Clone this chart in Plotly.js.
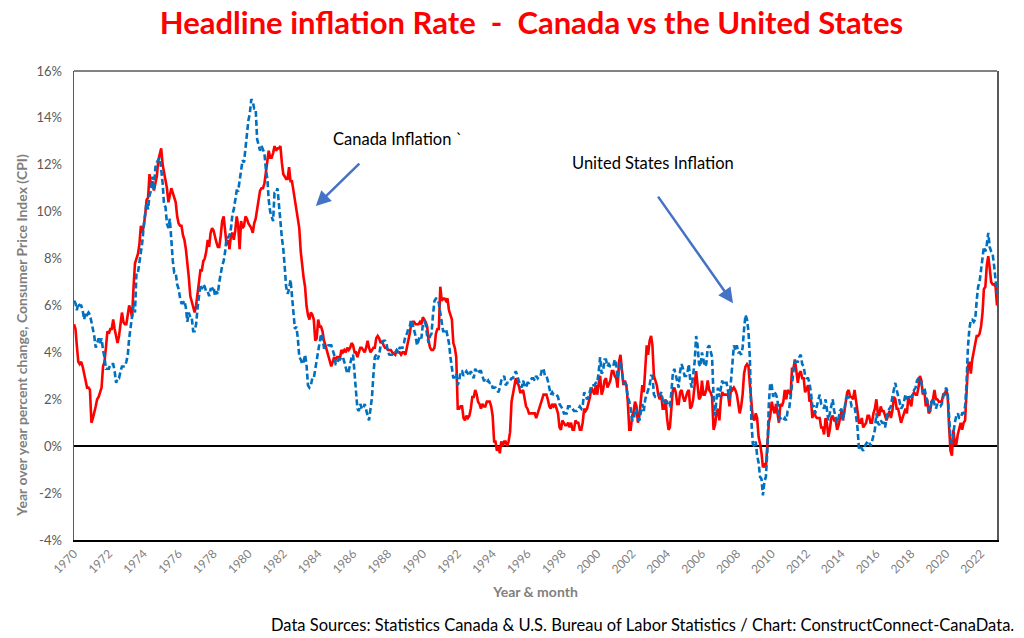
<!DOCTYPE html>
<html>
<head>
<meta charset="utf-8">
<script src="https://cdn.plot.ly/plotly-3.0.1.min.js"></script>
<style>
html,body{margin:0;padding:0;background:#ffffff;}
#chart{width:1024px;height:638px;}
</style>
</head>
<body>
<div id="chart"></div>
<script>
// Monthly year-over-year CPI change (%), January 1970 to December 2022
const startYear = 1970;

const canadaCPI = [
  5.2, 5.0, 4.3, 3.6, 3.5, 3.6, 3.4, 3.0, 2.8, 2.5, 2.5, 2.4,   // 1970
  1.0, 1.2, 1.4, 1.7, 2.0, 2.1, 2.3, 2.5, 3.4, 3.6, 4.2, 4.9,   // 1971
  4.8, 5.0, 5.0, 5.4, 5.0, 4.7, 4.4, 4.7, 5.2, 5.7, 5.3, 5.2,   // 1972
  5.2, 5.6, 6.0, 5.8, 5.5, 6.8, 7.8, 8.0, 8.2, 8.6, 9.4, 9.1,   // 1973
  9.4, 9.9, 10.5, 10.6, 11.6, 11.1, 11.3, 10.9, 11.2, 11.5, 12.2, 12.4, // 1974
  12.7, 12.0, 11.7, 11.3, 11.0, 10.4, 10.7, 11.0, 10.8, 10.6, 10.4, 9.8, // 1975
  9.5, 9.4, 9.4, 9.0, 8.8, 8.4, 7.9, 7.2, 6.4, 6.2, 5.9, 5.7,   // 1976
  6.0, 6.6, 7.0, 7.5, 7.5, 7.9, 8.0, 8.3, 8.8, 8.5, 9.1, 9.3,   // 1977
  9.2, 8.9, 8.7, 8.5, 8.5, 9.0, 9.6, 9.8, 9.3, 8.6, 8.8, 8.4,   // 1978
  9.0, 9.1, 8.8, 9.2, 9.8, 9.4, 8.4, 9.6, 9.3, 9.4, 9.8, 9.7,   // 1979
  9.5, 9.4, 9.3, 9.1, 9.5, 9.7, 10.1, 10.5, 10.9, 11.0, 11.0, 11.2, // 1980
  11.7, 12.2, 12.6, 12.3, 12.3, 12.5, 12.8, 12.6, 12.7, 12.7, 12.8, 12.1, // 1981
  11.6, 11.5, 11.4, 11.4, 11.9, 11.3, 11.3, 10.9, 10.5, 10.0, 9.8, 9.3, // 1982
  8.3, 7.6, 7.2, 6.8, 6.0, 5.6, 5.4, 5.7, 5.6, 5.4, 4.5, 4.6,   // 1983
  5.4, 5.1, 5.1, 4.9, 4.5, 4.3, 4.1, 3.8, 3.7, 3.4, 3.6, 3.8,   // 1984
  3.7, 3.8, 3.8, 3.75, 4.1, 4.0, 4.1, 4.0, 4.2, 4.1, 4.2, 4.4,  // 1985
  4.3, 4.0, 4.0, 3.8, 4.0, 4.2, 4.2, 4.1, 4.0, 4.2, 4.5, 4.2,   // 1986
  4.0, 4.1, 4.2, 4.2, 4.6, 4.7, 4.6, 4.4, 4.5, 4.3, 4.2, 4.2,   // 1987
  4.1, 4.1, 4.1, 4.0, 3.95, 3.9, 4.1, 4.0, 4.0, 3.9, 4.0, 4.0,  // 1988
  3.9, 4.3, 4.5, 4.8, 5.2, 5.3, 5.3, 5.2, 5.2, 5.2, 5.3, 5.2,   // 1989
  5.5, 5.4, 5.3, 5.1, 4.5, 4.2, 4.1, 4.1, 4.2, 4.8, 5.0, 5.0,   // 1990
  6.8, 6.2, 6.3, 6.3, 6.2, 6.3, 5.8, 5.6, 5.4, 4.4, 4.2, 3.8,   // 1991
  1.6, 1.6, 1.7, 1.7, 1.2, 1.1, 1.3, 1.2, 1.3, 1.6, 2.1, 2.1,   // 1992
  2.4, 2.2, 1.9, 1.8, 1.6, 1.8, 1.7, 1.7, 1.9, 1.9, 1.9, 1.7,   // 1993
  1.3, 0.2, 0.2, -0.2, 0.0, -0.3, 0.2, 0.0, 0.2, 0.2, 0.0, 0.2, // 1994
  0.6, 1.9, 2.2, 2.5, 2.9, 2.7, 2.6, 2.3, 2.3, 2.4, 2.0, 1.7,   // 1995
  1.6, 1.4, 1.4, 1.4, 1.4, 1.4, 1.2, 1.4, 1.5, 1.8, 2.0, 2.2,   // 1996
  2.2, 2.2, 2.0, 1.7, 1.6, 1.8, 1.7, 1.8, 1.6, 1.4, 0.8, 0.7,   // 1997
  1.1, 1.0, 0.9, 0.9, 1.0, 0.8, 1.0, 0.7, 0.7, 1.1, 1.0, 1.0,   // 1998
  0.7, 0.7, 1.0, 1.6, 1.5, 1.6, 1.8, 2.1, 2.5, 2.3, 2.2, 2.6,   // 1999
  2.2, 2.7, 3.0, 2.2, 2.4, 2.8, 2.9, 2.5, 2.7, 2.8, 3.2, 3.2,   // 2000
  3.0, 2.9, 2.5, 3.6, 3.9, 3.3, 2.6, 2.8, 2.6, 1.9, 0.7, 0.7,   // 2001
  1.3, 1.5, 1.9, 1.7, 1.0, 1.3, 2.1, 2.6, 2.3, 3.2, 4.3, 3.9,   // 2002
  4.5, 4.7, 4.3, 3.0, 2.8, 2.6, 2.2, 2.0, 2.2, 1.6, 1.6, 2.0,   // 2003
  1.2, 0.7, 0.8, 1.7, 2.4, 2.5, 2.3, 1.8, 1.8, 2.3, 2.4, 2.1,   // 2004
  1.9, 2.1, 2.3, 2.4, 1.6, 1.7, 2.0, 2.6, 3.2, 2.6, 2.0, 2.1,   // 2005
  2.8, 2.2, 2.2, 2.4, 2.8, 2.4, 2.3, 2.1, 0.7, 0.9, 1.4, 1.6,   // 2006
  1.1, 2.0, 2.3, 2.2, 2.2, 2.2, 2.2, 1.7, 2.5, 2.4, 2.5, 2.4,   // 2007
  2.2, 1.8, 1.4, 1.7, 2.2, 3.1, 3.4, 3.5, 3.4, 2.6, 2.0, 1.2,   // 2008
  1.1, 1.4, 1.2, 0.4, 0.1, -0.3, -0.9, -0.8, -0.9, 0.1, 1.0, 1.3, // 2009
  1.9, 1.6, 1.4, 1.8, 1.4, 1.0, 1.8, 1.7, 1.9, 2.4, 2.0, 2.4,   // 2010
  2.3, 2.2, 3.3, 3.3, 3.7, 3.1, 2.7, 3.1, 3.2, 2.9, 2.9, 2.3,   // 2011
  2.5, 2.6, 1.9, 2.0, 1.2, 1.5, 1.3, 1.2, 1.2, 1.2, 0.8, 0.8,   // 2012
  0.5, 1.2, 1.0, 0.4, 0.7, 1.2, 1.3, 1.1, 1.1, 0.7, 0.9, 1.2,   // 2013
  1.5, 1.1, 1.5, 2.0, 2.3, 2.4, 2.1, 2.1, 2.0, 2.4, 2.0, 1.5,   // 2014
  1.0, 1.0, 1.2, 0.8, 0.9, 1.0, 1.3, 1.3, 1.0, 1.0, 1.4, 1.6,   // 2015
  2.0, 1.4, 1.3, 1.7, 1.5, 1.5, 1.3, 1.1, 1.3, 1.5, 1.2, 1.5,   // 2016
  2.1, 2.0, 1.6, 1.6, 1.3, 1.0, 1.2, 1.4, 1.6, 1.4, 2.1, 1.9,   // 2017
  1.7, 2.2, 2.3, 2.2, 2.2, 2.5, 3.0, 2.8, 2.2, 2.4, 1.7, 2.0,   // 2018
  1.4, 1.5, 1.9, 2.0, 2.4, 2.0, 2.0, 1.9, 1.9, 1.9, 2.2, 2.2,   // 2019
  2.4, 2.2, 0.9, -0.2, -0.4, 0.7, 0.1, 0.1, 0.5, 0.7, 1.0, 0.7, // 2020
  1.0, 1.1, 2.2, 3.4, 3.6, 3.1, 3.7, 4.1, 4.4, 4.7, 4.7, 4.8,   // 2021
  5.1, 5.7, 6.7, 6.8, 7.7, 8.1, 7.6, 7.0, 6.9, 6.9, 6.8, 6.0    // 2022
];

const usCPI = [
  6.2, 6.1, 5.8, 6.1, 6.0, 6.0, 5.8, 5.4, 5.7, 5.6, 5.7, 5.6,   // 1970
  5.3, 5.0, 4.7, 4.2, 4.4, 4.6, 4.4, 4.6, 4.1, 3.8, 3.3, 3.3,   // 1971
  3.3, 3.5, 3.5, 3.5, 3.2, 2.7, 2.9, 2.9, 3.2, 3.4, 3.4, 3.4,   // 1972
  3.6, 3.9, 4.6, 5.1, 5.5, 6.0, 5.7, 7.4, 7.4, 7.8, 8.3, 8.7,   // 1973
  9.4, 10.0, 10.4, 10.1, 10.7, 10.9, 11.5, 10.9, 11.9, 12.1, 12.2, 12.3, // 1974
  11.8, 11.2, 10.3, 10.2, 9.5, 9.3, 9.7, 8.6, 7.9, 7.4, 7.4, 6.9, // 1975
  6.7, 6.3, 6.1, 6.1, 6.2, 5.9, 5.3, 5.7, 5.5, 5.5, 4.9, 4.9,   // 1976
  5.2, 5.9, 6.4, 6.9, 6.7, 6.9, 6.8, 6.6, 6.6, 6.4, 6.7, 6.7,   // 1977
  6.8, 6.4, 6.6, 6.5, 7.0, 7.4, 7.7, 7.9, 8.3, 8.9, 8.9, 9.0,   // 1978
  9.3, 9.9, 10.1, 10.5, 10.9, 10.9, 11.3, 11.8, 12.2, 12.1, 12.6, 13.3, // 1979
  13.9, 14.2, 14.8, 14.7, 14.4, 14.4, 13.1, 12.9, 12.6, 12.8, 12.6, 12.5, // 1980
  11.8, 11.4, 10.5, 10.0, 9.8, 9.6, 10.8, 10.8, 11.0, 10.1, 9.6, 8.9, // 1981
  8.4, 7.6, 6.8, 6.5, 6.7, 7.1, 6.4, 5.9, 5.0, 5.1, 4.6, 3.8,   // 1982
  3.7, 3.5, 3.6, 3.9, 3.5, 2.6, 2.5, 2.6, 2.9, 2.9, 3.3, 3.8,   // 1983
  4.2, 4.6, 4.8, 4.6, 4.2, 4.2, 4.2, 4.3, 4.3, 4.3, 4.1, 3.9,   // 1984
  3.5, 3.5, 3.7, 3.7, 3.8, 3.8, 3.6, 3.3, 3.1, 3.2, 3.5, 3.8,   // 1985
  3.9, 3.1, 2.2, 1.6, 1.5, 1.8, 1.6, 1.6, 1.8, 1.5, 1.3, 1.1,   // 1986
  1.5, 2.1, 3.0, 3.8, 3.9, 3.7, 3.9, 4.3, 4.4, 4.5, 4.5, 4.4,   // 1987
  4.0, 3.9, 3.9, 3.9, 3.9, 4.0, 4.1, 4.0, 4.2, 4.2, 4.2, 4.4,   // 1988
  4.7, 4.8, 5.0, 5.1, 5.4, 5.2, 5.0, 4.7, 4.3, 4.5, 4.7, 4.6,   // 1989
  5.2, 5.3, 5.2, 4.7, 4.4, 4.7, 4.8, 5.6, 6.2, 6.3, 6.3, 6.1,   // 1990
  5.7, 5.3, 4.9, 4.9, 5.0, 4.7, 4.4, 3.8, 3.4, 2.9, 3.0, 3.1,   // 1991
  2.6, 2.8, 3.2, 3.2, 3.0, 3.1, 3.2, 3.1, 3.0, 3.2, 3.0, 2.9,   // 1992
  3.3, 3.2, 3.1, 3.2, 3.2, 3.0, 2.8, 2.8, 2.7, 2.8, 2.7, 2.7,   // 1993
  2.5, 2.5, 2.5, 2.4, 2.3, 2.5, 2.8, 2.9, 3.0, 2.6, 2.7, 2.7,   // 1994
  2.8, 2.9, 2.9, 3.1, 3.2, 3.0, 2.8, 2.6, 2.5, 2.8, 2.6, 2.5,   // 1995
  2.7, 2.7, 2.8, 2.9, 2.9, 2.8, 3.0, 2.9, 3.0, 3.0, 3.3, 3.3,   // 1996
  3.0, 3.0, 2.8, 2.5, 2.2, 2.3, 2.2, 2.2, 2.2, 2.1, 1.8, 1.7,   // 1997
  1.6, 1.4, 1.4, 1.4, 1.7, 1.7, 1.7, 1.6, 1.5, 1.5, 1.5, 1.6,   // 1998
  1.7, 1.6, 1.7, 2.3, 2.1, 2.0, 2.1, 2.3, 2.6, 2.6, 2.6, 2.7,   // 1999
  2.7, 3.2, 3.8, 3.1, 3.2, 3.7, 3.7, 3.4, 3.5, 3.4, 3.4, 3.4,   // 2000
  3.7, 3.5, 2.9, 3.3, 3.6, 3.2, 2.7, 2.7, 2.6, 2.1, 1.9, 1.6,   // 2001
  1.1, 1.1, 1.5, 1.6, 1.2, 1.1, 1.5, 1.8, 1.5, 2.0, 2.2, 2.4,   // 2002
  2.6, 3.0, 3.0, 2.2, 2.1, 2.1, 2.1, 2.2, 2.3, 2.0, 1.8, 1.9,   // 2003
  1.9, 1.7, 1.7, 2.3, 3.1, 3.3, 3.0, 2.7, 2.5, 3.2, 3.5, 3.3,   // 2004
  3.0, 3.0, 3.1, 3.5, 2.8, 2.5, 3.2, 3.6, 4.7, 4.3, 3.5, 3.4,   // 2005
  4.0, 3.6, 3.4, 3.5, 4.2, 4.3, 4.1, 3.8, 2.1, 1.3, 2.0, 2.5,   // 2006
  2.1, 2.4, 2.8, 2.6, 2.7, 2.7, 2.4, 2.0, 2.8, 3.5, 4.3, 4.1,   // 2007
  4.3, 4.0, 4.0, 3.9, 4.2, 5.0, 5.6, 5.4, 4.9, 3.7, 1.1, 0.1,   // 2008
  0.0, 0.2, -0.4, -0.7, -1.3, -1.4, -2.1, -1.5, -1.3, -0.2, 1.8, 2.7, // 2009
  2.6, 2.1, 2.3, 2.2, 2.0, 1.1, 1.2, 1.1, 1.1, 1.2, 1.1, 1.5,   // 2010
  1.6, 2.1, 2.7, 3.2, 3.6, 3.6, 3.6, 3.8, 3.9, 3.5, 3.4, 3.0,   // 2011
  2.9, 2.9, 2.7, 2.3, 1.7, 1.7, 1.4, 1.7, 2.0, 2.2, 1.8, 1.7,   // 2012
  1.6, 2.0, 1.5, 1.1, 1.4, 1.8, 2.0, 1.5, 1.2, 1.0, 1.2, 1.5,   // 2013
  1.6, 1.1, 1.5, 2.0, 2.1, 2.1, 2.0, 1.7, 1.7, 1.7, 1.3, 0.8,   // 2014
  -0.1, 0.0, -0.1, -0.2, 0.0, 0.1, 0.2, 0.2, 0.0, 0.2, 0.5, 0.7, // 2015
  1.4, 1.0, 0.9, 1.1, 1.0, 1.0, 0.8, 1.1, 1.5, 1.6, 1.7, 2.1,   // 2016
  2.5, 2.7, 2.4, 2.2, 1.9, 1.6, 1.7, 1.9, 2.2, 2.0, 2.2, 2.1,   // 2017
  2.1, 2.2, 2.4, 2.5, 2.8, 2.9, 2.9, 2.7, 2.3, 2.5, 2.2, 1.9,   // 2018
  1.6, 1.5, 1.9, 2.0, 1.8, 1.6, 1.8, 1.7, 1.7, 1.8, 2.1, 2.3,   // 2019
  2.5, 2.3, 1.5, 0.3, 0.1, 0.6, 1.0, 1.3, 1.4, 1.2, 1.2, 1.4,   // 2020
  1.4, 1.7, 2.6, 4.2, 5.0, 5.4, 5.4, 5.3, 5.4, 6.2, 6.8, 7.0,   // 2021
  7.5, 7.9, 8.5, 8.3, 8.6, 9.1, 8.5, 8.3, 8.2, 7.7, 7.1, 6.5    // 2022
];

const tickYears = [1970,1972,1974,1976,1978,1980,1982,1984,1986,1988,1990,1992,1994,1996,
                   1998,2000,2002,2004,2006,2008,2010,2012,2014,2016,2018,2020,2022];
const yTickValues = [-4,-2,0,2,4,6,8,10,12,14,16];
const yTickLabels = ['-4%','-2%','0%','2%','4%','6%','8%','10%','12%','14%','16%'];

const seriesNames = ['Canada Inflation', 'United States Inflation'];

// month categories (first day of each month)
const monthDates = canadaCPI.map((_, i) => {
  const y = startYear + Math.floor(i / 12);
  const m = (i % 12) + 1;
  return y + '-' + String(m).padStart(2, '0') + '-01';
});
const xTickVals = tickYears.map(y => y + '-01-01');
const xTickText = tickYears.map(String);

const FONT = 'Lato, "Open Sans", "DejaVu Sans", sans-serif';

const traces = [
  {
    type: 'scatter', mode: 'lines', name: seriesNames[0],
    x: monthDates, y: canadaCPI,
    line: {color: '#ff0000', width: 2.6},
    hoverinfo: 'skip'
  },
  {
    type: 'scatter', mode: 'lines', name: seriesNames[1],
    x: monthDates, y: usCPI,
    line: {color: '#0070c0', width: 2.6, dash: '6px,3px'},
    hoverinfo: 'skip'
  }
];

const layout = {
  width: 1024, height: 638,
  paper_bgcolor: '#ffffff', plot_bgcolor: '#ffffff',
  margin: {l: 74, r: 27, t: 71, b: 98},
  showlegend: false,
  font: {family: FONT, color: '#595959'},
  title: {
    text: '<b>Headline inflation Rate\u00a0\u00a0-\u00a0\u00a0Canada vs the United States</b>',
    font: {family: FONT, size: 31, color: '#ff0000'},
    xref: 'container', x: 0.519, xanchor: 'center',
    yref: 'container', y: 0.963, yanchor: 'middle'
  },
  xaxis: {
    type: 'date',
    range: [monthDates[0], monthDates[monthDates.length - 1]],
    tickmode: 'array', tickvals: xTickVals, ticktext: xTickText,
    tickangle: -45,
    tickfont: {family: FONT, size: 12, color: '#7f7f7f'},
    ticks: '',
    showgrid: false, zeroline: false,
    showline: true, linecolor: '#000000', linewidth: 2,
    title: {text: '<b>Year & month</b>', font: {family: FONT, size: 14, color: '#7f7f7f'}, standoff: 12}
  },
  yaxis: {
    range: [-4, 16],
    tickmode: 'array', tickvals: yTickValues, ticktext: yTickLabels,
    tickfont: {family: FONT, size: 13, color: '#595959'},
    ticks: '',
    ticklabelstandoff: 8,
    showgrid: false,
    zeroline: true, zerolinecolor: '#000000', zerolinewidth: 2,
    showline: true, linecolor: '#595959', linewidth: 1.5, mirror: true
  },
  shapes: [
    {type: 'line', xref: 'paper', yref: 'paper', x0: 0, x1: 1, y0: 1, y1: 1,
     line: {color: '#595959', width: 1.5}}
  ],
  annotations: [
    {xref: 'paper', yref: 'paper', x: -0.0563, y: 0.435, xanchor: 'center', yanchor: 'middle',
     textangle: -90, showarrow: false,
     text: '<b>Year over year percent change, Consumer Price Index (CPI)</b>',
     font: {family: FONT, size: 14, color: '#7f7f7f'}},
    {xref: 'paper', yref: 'paper', x: 0.350, y: 0.855, xanchor: 'center', yanchor: 'middle',
     showarrow: false, text: 'Canada Inflation `',
     font: {family: FONT, size: 16.5, color: '#000000'}},
    {xref: 'paper', yref: 'paper', x: 0.262, y: 0.712, ax: 45, ay: -44,
     axref: 'pixel', ayref: 'pixel', showarrow: true, text: '',
     arrowhead: 2, arrowsize: 1.2, arrowwidth: 2.5, arrowcolor: '#4472c4', standoff: 0},
    {xref: 'paper', yref: 'paper', x: 0.627, y: 0.804, xanchor: 'center', yanchor: 'middle',
     showarrow: false, text: 'United States Inflation',
     font: {family: FONT, size: 16.5, color: '#000000'}},
    {xref: 'paper', yref: 'paper', x: 0.714, y: 0.505, ax: -76, ay: -108,
     axref: 'pixel', ayref: 'pixel', showarrow: true, text: '',
     arrowhead: 2, arrowsize: 1.2, arrowwidth: 2.5, arrowcolor: '#4472c4', standoff: 0},
    {xref: 'paper', yref: 'paper', x: 1.0206, y: -0.181, xanchor: 'right', yanchor: 'middle',
     showarrow: false,
     text: 'Data Sources: Statistics Canada & U.S. Bureau of Labor Statistics / Chart: ConstructConnect-CanaData.',
     font: {family: FONT, size: 16.5, color: '#000000'}}
  ]
};

Plotly.newPlot('chart', traces, layout, {displayModeBar: false, staticPlot: true});
</script>
</body>
</html>
